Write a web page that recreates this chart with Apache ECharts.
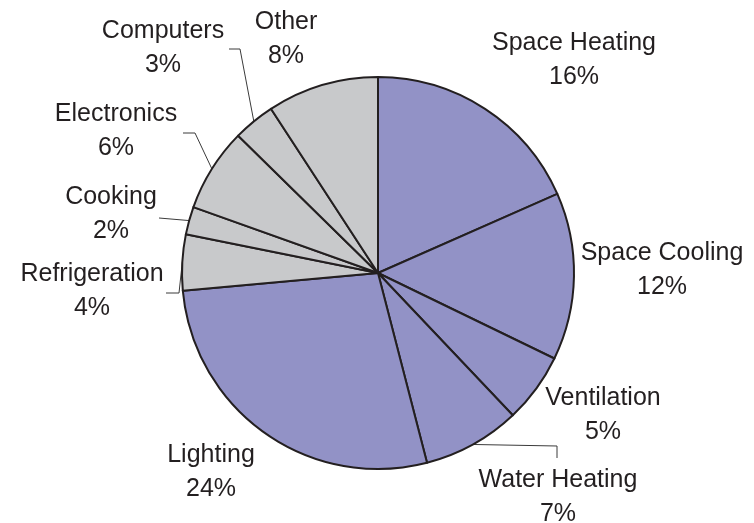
<!DOCTYPE html>
<html>
<head>
<meta charset="utf-8">
<script src="https://cdn.jsdelivr.net/npm/echarts@6/dist/echarts.min.js"></script>
<style>
    html, body { margin: 0; padding: 0; background: #fff; }
    #main { width: 754px; height: 523px; }
</style>
</head>
<body>
<div id="main"></div>
<script>
// data
var categories = ['Space Heating', 'Space Cooling', 'Ventilation', 'Water Heating', 'Lighting',
                  'Refrigeration', 'Cooking', 'Electronics', 'Computers', 'Other'];
var shares = [16, 12, 5, 7, 24, 4, 2, 6, 3, 8];

// layout
var cx = 378, cy = 273, r = 196;
var purple = '#9292C6', gray = '#C8C9CB';
var sliceColors = [purple, purple, purple, purple, purple, gray, gray, gray, gray, gray];
// label block centres
var labelSpots = {
    'Space Heating': [574, 60],
    'Space Cooling': [662, 270],
    'Ventilation': [603, 415],
    'Water Heating': [558, 497],
    'Lighting': [211, 472],
    'Refrigeration': [92, 291],
    'Cooking': [111, 214],
    'Electronics': [116, 131],
    'Computers': [163, 48],
    'Other': [286, 39]
};
// leader lines: bend point(s) then end point
var leaders = {
    'Water Heating': [[557, 446], [557, 458]],
    'Refrigeration': [[179, 293], [166, 293]],
    'Cooking': [[159, 218]],
    'Electronics': [[195, 133], [183, 133]],
    'Computers': [[240, 49], [229, 49]]
};

var total = shares.reduce(function(a, b) { return a + b; }, 0);

function edgePoint(i) {
    var before = 0;
    for (var k = 0; k < i; k++) before += shares[k];
    var mid = (before + shares[i] / 2) / total * Math.PI * 2;
    return [cx + r * Math.sin(mid), cy - r * Math.cos(mid)];
}

var myChart = echarts.init(document.getElementById('main'));
var option = {
    animation: false,
    series: [
        {
            type: 'pie',
            center: [cx, cy],
            radius: r,
            startAngle: 90,
            clockwise: true,
            avoidLabelOverlap: false,
            emphasis: { disabled: true },
            itemStyle: {
                borderColor: '#231F20',
                borderWidth: 2
            },
            label: {
                show: true,
                formatter: '{b}\n{c}%',
                fontFamily: 'Liberation Sans, Arial, sans-serif',
                fontSize: 25,
                lineHeight: 34,
                color: '#231F20'
            },
            labelLine: {
                show: false,
                lineStyle: { color: '#3a3a3a', width: 1 }
            },
            labelLayout: function(params) {
                var name = categories[params.dataIndex];
                var spot = labelSpots[name];
                var out = { x: spot[0], y: spot[1], align: 'center', verticalAlign: 'middle' };
                if (leaders[name]) {
                    out.labelLinePoints = [edgePoint(params.dataIndex)].concat(leaders[name]);
                }
                return out;
            },
            data: categories.map(function(name, i) {
                return {
                    name: name,
                    value: shares[i],
                    itemStyle: { color: sliceColors[i] },
                    labelLine: { show: !!leaders[name] }
                };
            })
        }
    ]
};
myChart.setOption(option);
</script>
</body>
</html>
